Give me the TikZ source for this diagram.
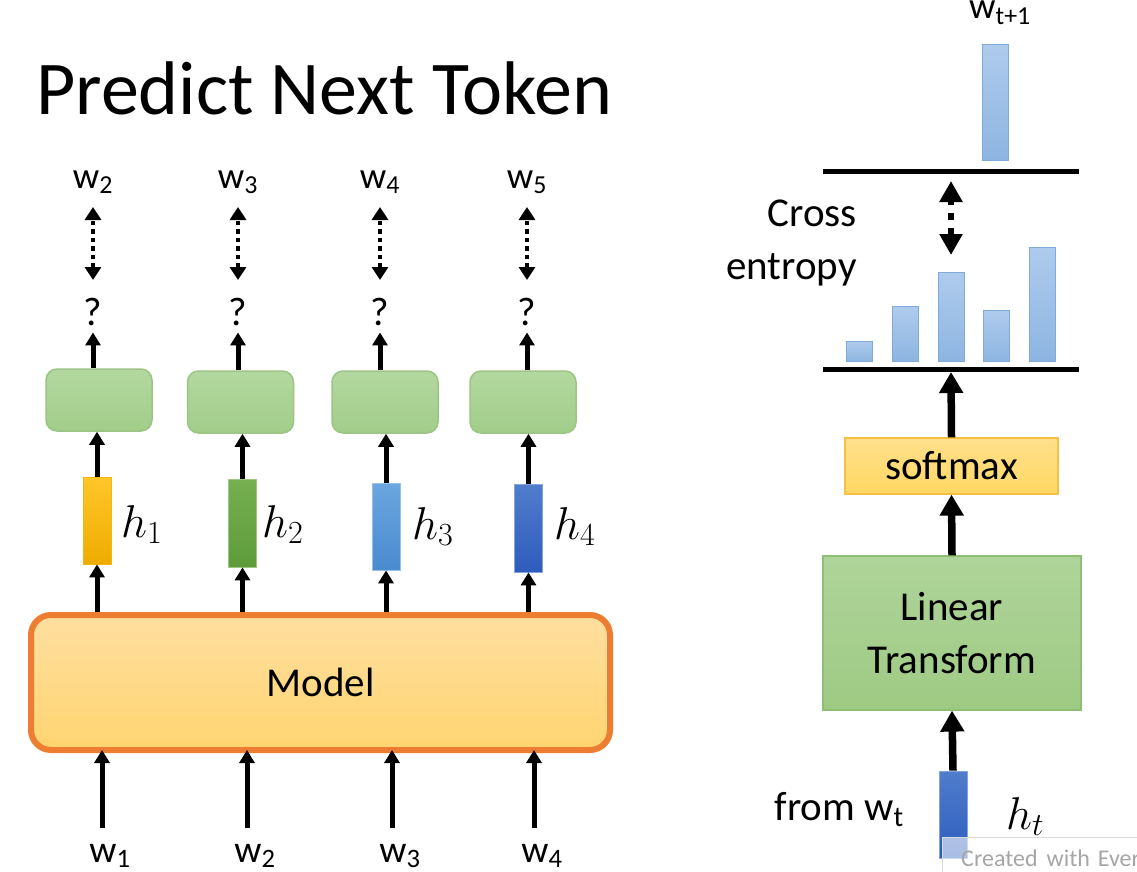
\documentclass[tikz,border=0pt]{standalone}
\usepackage{fix-cm}
\usepackage{fontspec}
\setmainfont{Carlito}
\usetikzlibrary{arrows.meta}
\definecolor{gtop}{HTML}{B3D8A0}
\definecolor{gbot}{HTML}{A2CD89}
\definecolor{gbord}{HTML}{9CC585}
\definecolor{mtop}{HTML}{FFDFA0}
\definecolor{mbot}{HTML}{FFD470}
\definecolor{mbord}{HTML}{ED7D31}
\definecolor{ltop}{HTML}{AFD49A}
\definecolor{lbot}{HTML}{9ECA83}
\definecolor{lbord}{HTML}{8EBF74}
\definecolor{stop}{HTML}{FFE08C}
\definecolor{sbot}{HTML}{FFD863}
\definecolor{sbord}{HTML}{F6C143}
\definecolor{ctop}{HTML}{AECBEC}
\definecolor{cbot}{HTML}{8DB5E1}
\definecolor{cbord}{HTML}{80AAD9}
\definecolor{hatop}{HTML}{FFC62A}
\definecolor{habot}{HTML}{EEAC00}
\definecolor{hbtop}{HTML}{75AF50}
\definecolor{hbbot}{HTML}{5E9B3B}
\definecolor{hctop}{HTML}{6AA6DF}
\definecolor{hcbot}{HTML}{4A8ACF}
\definecolor{hdtop}{HTML}{507DCB}
\definecolor{hdbot}{HTML}{2D5CBE}
\tikzset{
  arr/.style={line width=5pt,-{Triangle[length=13pt,width=15pt]}},
  bigarr/.style={line width=7.5pt,-{Triangle[length=21pt,width=23pt]}},
  dotarr/.style={line width=4.5pt,dash pattern=on 4.5pt off 4pt,
    {Triangle[length=13pt,width=16pt]}-{Triangle[length=13pt,width=16pt]}},
  bigdotarr/.style={line width=6.5pt,dash pattern=on 7pt off 8pt,
    {Triangle[length=21pt,width=22pt]}-{Triangle[length=21pt,width=22pt]}},
  lbl/.style={font=\fontsize{37pt}{44pt}\selectfont, inner sep=0pt},
  txt/.style={font=\fontsize{41pt}{53pt}\selectfont, inner sep=0pt},
  hmath/.style={font=\fontsize{46pt}{54pt}\selectfont, inner sep=0pt, anchor=base west},
  greenbox/.style={draw=gbord, line width=1.5pt, rounded corners=11pt,
    top color=gtop, bottom color=gbot, minimum width=106pt, minimum height=62pt, inner sep=0pt},
  hbar/.style={line width=0.8pt, minimum width=28pt, inner sep=0pt},
  cbar/.style={draw=cbord, line width=1pt, top color=ctop, bottom color=cbot,
    minimum width=26pt, inner sep=0pt, anchor=south},
  axisline/.style={line width=5pt}
}
\begin{document}
\begin{tikzpicture}[x=1pt,y=-1pt]
\useasboundingbox (0,0) rectangle (1137,872);
\fill[white] (0,0) rectangle (1137,872);

% title
\node[anchor=base west, inner sep=0pt, font=\fontsize{76pt}{90pt}\selectfont] (title) at (36,115) {Predict Next Token};

% ---------- left part ----------
\node[lbl, anchor=base] (t2) at (93,188) {w\textsubscript{2}};
\node[lbl, anchor=base] (t3) at (238,188) {w\textsubscript{3}};
\node[lbl, anchor=base] (t4) at (380,188) {w\textsubscript{4}};
\node[lbl, anchor=base] (t5) at (527,188) {w\textsubscript{5}};

\node[lbl, anchor=base, font=\fontsize{40pt}{46pt}\selectfont] (q1) at (93,325) {?};
\node[lbl, anchor=base, font=\fontsize{40pt}{46pt}\selectfont] (q2) at (238,325) {?};
\node[lbl, anchor=base, font=\fontsize{40pt}{46pt}\selectfont] (q3) at (380,325) {?};
\node[lbl, anchor=base, font=\fontsize{40pt}{46pt}\selectfont] (q4) at (527,325) {?};

\coordinate (d1a) at (93,207);  \coordinate (d1b) at (93,280);
\coordinate (d2a) at (238,207); \coordinate (d2b) at (238,280);
\coordinate (d3a) at (380,207); \coordinate (d3b) at (380,280);
\coordinate (d4a) at (527,207); \coordinate (d4b) at (527,280);
\draw[dotarr] (d1b) -- (d1a);
\draw[dotarr] (d2b) -- (d2a);
\draw[dotarr] (d3b) -- (d3a);
\draw[dotarr] (d4b) -- (d4a);

\node[greenbox] (g1) at (99,400) {};
\node[greenbox] (g2) at (240.5,402) {};
\node[greenbox] (g3) at (385,402) {};
\node[greenbox] (g4) at (523,402) {};

\draw[arr, shorten >=7pt] (g1.north -| q1) -- (q1.south);
\draw[arr, shorten >=7pt] (g2.north -| q2) -- (q2.south);
\draw[arr, shorten >=7pt] (g3.north -| q3) -- (q3.south);
\draw[arr, shorten >=7pt] (g4.north -| q4) -- (q4.south);

\node[hbar, draw=habot!60!hatop, top color=hatop, bottom color=habot, minimum height=87pt] (h1) at (97,520.5) {};
\node[hbar, draw=hbtop!70!white, top color=hbtop, bottom color=hbbot, minimum height=88pt] (h2) at (242.5,523) {};
\node[hbar, draw=hctop!70!white, top color=hctop, bottom color=hcbot, minimum height=87pt] (h3) at (386,526.5) {};
\node[hbar, draw=hdtop!70!white, top color=hdtop, bottom color=hdbot, minimum height=88pt] (h4) at (528.5,528) {};

\node[hmath] (hl1) at (121,537) {$h_1$};
\node[hmath] (hl2) at (262,537) {$h_2$};
\node[hmath] (hl3) at (412,539) {$h_3$};
\node[hmath] (hl4) at (554,539) {$h_4$};

\draw[arr] (h1.north) -- (g1.south -| h1);
\draw[arr] (h2.north) -- (g2.south -| h2);
\draw[arr] (h3.north) -- (g3.south -| h3);
\draw[arr] (h4.north) -- (g4.south -| h4);

\node[draw=mbord, line width=6pt, rounded corners=20pt, top color=mtop, bottom color=mbot,
  minimum width=579pt, minimum height=135pt, inner sep=0pt, font=\fontsize{41pt}{49pt}\selectfont] (m) at (320.5,682.5) {Model};

\draw[arr] (m.north -| h1) -- (h1.south);
\draw[arr] (m.north -| h2) -- (h2.south);
\draw[arr] (m.north -| h3) -- (h3.south);
\draw[arr] (m.north -| h4) -- (h4.south);

\node[lbl, anchor=base, font=\fontsize{38pt}{44pt}\selectfont] (b1) at (110,862) {w\textsubscript{1}};
\node[lbl, anchor=base, font=\fontsize{38pt}{44pt}\selectfont] (b2) at (255,862) {w\textsubscript{2}};
\node[lbl, anchor=base, font=\fontsize{38pt}{44pt}\selectfont] (b3) at (400,862) {w\textsubscript{3}};
\node[lbl, anchor=base, font=\fontsize{38pt}{44pt}\selectfont] (b4) at (542,862) {w\textsubscript{4}};
\coordinate (s1) at (102,828);
\coordinate (s2) at (247,828);
\coordinate (s3) at (392,828);
\coordinate (s4) at (534,828);
\draw[arr, shorten >=-3pt] (s1) -- (m.south -| s1);
\draw[arr, shorten >=-3pt] (s2) -- (m.south -| s2);
\draw[arr, shorten >=-3pt] (s3) -- (m.south -| s3);
\draw[arr, shorten >=-3pt] (s4) -- (m.south -| s4);

% ---------- right part ----------
\node[lbl, anchor=base] (wt1) at (1000,19) {w\textsubscript{t+1}};
\node[cbar, minimum height=116pt] (tb) at (995,161) {};
\coordinate (la1) at (823,171); \coordinate (la2) at (1079,171);
\draw[axisline] (la1) -- (la2);

\coordinate (ce1) at (951,181); \coordinate (ce2) at (951,255);
\draw[bigdotarr] (ce2) -- (ce1);
\node[txt, anchor=base east] (cross) at (857,226) {Cross};
\node[txt, anchor=base east] (entropy) at (857,279) {entropy};

\node[cbar, minimum height=20pt] (ba) at (859.5,362) {};
\node[cbar, minimum height=55pt] (bb) at (905,362) {};
\node[cbar, minimum height=89pt] (bc) at (951,362) {};
\node[cbar, minimum height=51pt] (bd) at (996.5,362) {};
\node[cbar, minimum height=114pt] (be) at (1042.5,362) {};
\coordinate (lb1) at (823,369); \coordinate (lb2) at (1079,369);
\draw[axisline] (lb1) -- (lb2);

\node[txt, draw=sbord, line width=1.2pt, top color=stop, bottom color=sbot,
  minimum width=213pt, minimum height=56pt] (sm) at (951.5,466) {softmax};
\coordinate (smtip) at (951,372);
\draw[bigarr] (sm.north) -- (smtip);

\node[txt, draw=lbord, line width=1.2pt, top color=ltop, bottom color=lbot, align=center,
  minimum width=258pt, minimum height=154pt] (lt) at (952,633) {Linear\\Transform};
\draw[bigarr] (lt.north) -- (sm.south);

\node[hbar, draw=hdtop!70!white, top color=hdtop, bottom color=hdbot, minimum height=87pt] (ht) at (953,814.5) {};
\draw[bigarr] (ht.north) -- (lt.south);
\node[txt, anchor=base east] (from) at (904,820) {from w\textsubscript{t}};
\node[hmath] (htl) at (1006,829) {$h_t$};

% watermark overlay
\fill[white, opacity=0.6] (942,837) rectangle (1150,880);
\draw[gray!30, line width=1pt] (942,880) -- (942,837) -- (1150,837);
\node[anchor=base west, inner sep=0pt, text=gray!70, font=\fontsize{24pt}{28pt}\selectfont] (wm) at (961,866) {Created\hspace{9pt}with\hspace{8pt}Ever};
\end{tikzpicture}
\end{document}
